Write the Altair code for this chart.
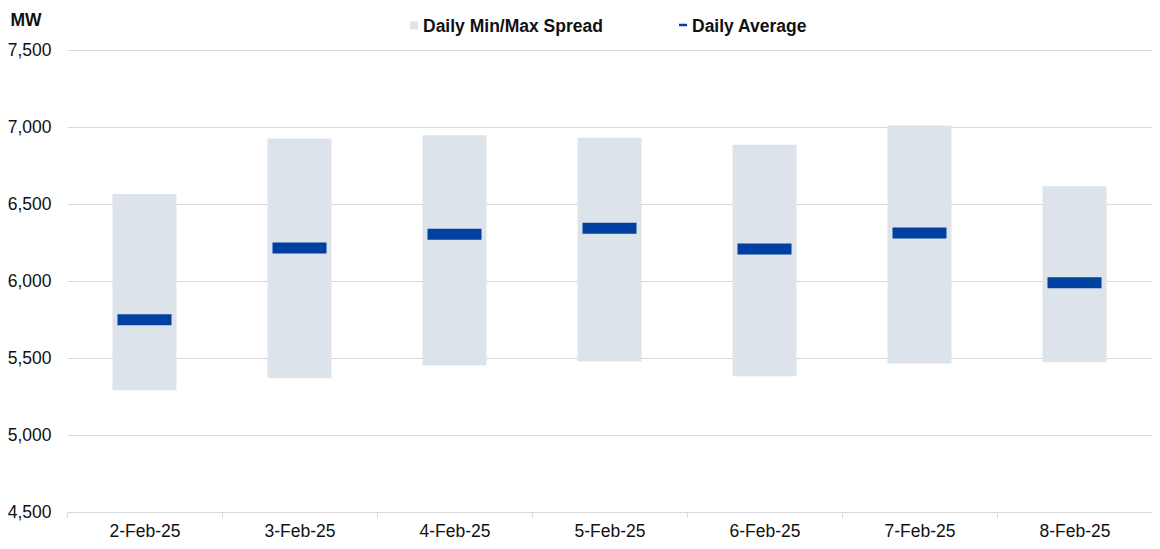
import altair as alt
import pandas as pd

dates = ["2-Feb-25", "3-Feb-25", "4-Feb-25", "5-Feb-25", "6-Feb-25", "7-Feb-25", "8-Feb-25"]
daily_min = [5291, 5369, 5452, 5478, 5382, 5465, 5472]
daily_max = [6565, 6926, 6947, 6930, 6885, 7010, 6615]
daily_avg = [5749, 6214, 6304, 6343, 6208, 6311, 5988]

legend_labels = ["Daily Min/Max Spread", "Daily Average"]

df = pd.DataFrame({"date": dates, "min": daily_min, "max": daily_max, "avg": daily_avg})

FONT = "Liberation Sans"
FS = 17.5
SPREAD = "#DCE3EA"
AVG = "#0040A0"
GRID = "#D9D9D9"
TXT = "#111111"

x_enc = alt.X(
    "date:N",
    sort=dates,
    scale=alt.Scale(paddingInner=0, paddingOuter=0),
    axis=alt.Axis(
        title=None, labelAngle=0, tickBand="extent", ticks=True, tickSize=5,
        tickColor=GRID, domainColor=GRID, labelPadding=5, grid=False,
        labelFontSize=FS, labelFont=FONT, labelColor=TXT,
    ),
)

y_scale = alt.Scale(domain=[4500, 7500], nice=False, zero=False)

spread = alt.Chart(df).mark_bar(size=64, color=SPREAD, opacity=1).encode(
    x=x_enc,
    y=alt.Y(
        "min:Q", scale=y_scale,
        axis=alt.Axis(
            title="MW", titleAngle=0, titleAlign="left", titleBaseline="alphabetic",
            titleX=-57, titleY=-25, titleFont=FONT, titleFontSize=FS, titleFontWeight="bold",
            titleColor=TXT, values=[4500, 5000, 5500, 6000, 6500, 7000, 7500], format=",.0f",
            ticks=False, tickSize=0, labelPadding=16, domain=False, grid=True, gridColor=GRID,
            labelFontSize=FS, labelFont=FONT, labelColor=TXT,
        ),
    ),
    y2="max:Q",
)

avg = alt.Chart(df).mark_tick(size=54, thickness=11, color=AVG, opacity=1, orient="horizontal").encode(
    x=alt.X("date:N", sort=dates),
    y=alt.Y("avg:Q", scale=y_scale),
)

leg_df = pd.DataFrame({"label": legend_labels})

leg_sq = alt.Chart(leg_df).transform_filter(alt.datum.label == legend_labels[0]).mark_square(
    size=64, color=SPREAD, opacity=1
).encode(x=alt.value(347), y=alt.value(-24.5))

leg_dash = alt.Chart(leg_df).transform_filter(alt.datum.label == legend_labels[1]).mark_rule(
    color=AVG, strokeWidth=2.5
).encode(x=alt.value(612), x2=alt.value(620), y=alt.value(-25))

leg_t1 = alt.Chart(leg_df).transform_filter(alt.datum.label == legend_labels[0]).mark_text(
    font=FONT, fontSize=FS, fontWeight="bold", align="left", baseline="alphabetic", color=TXT
).encode(text="label:N", x=alt.value(356), y=alt.value(-18.5))

leg_t2 = alt.Chart(leg_df).transform_filter(alt.datum.label == legend_labels[1]).mark_text(
    font=FONT, fontSize=FS, fontWeight="bold", align="left", baseline="alphabetic", color=TXT
).encode(text="label:N", x=alt.value(625), y=alt.value(-18.5))

chart = alt.layer(spread, avg, leg_sq, leg_dash, leg_t1, leg_t2).properties(
    width=1085, height=462,
    autosize=alt.AutoSizeParams(type="none"),
    padding={"left": 59, "top": 42, "right": 0, "bottom": 29},
    background="white",
).configure_view(stroke=None)

chart.save("out.html", embed_options={"renderer": "svg", "actions": False})
